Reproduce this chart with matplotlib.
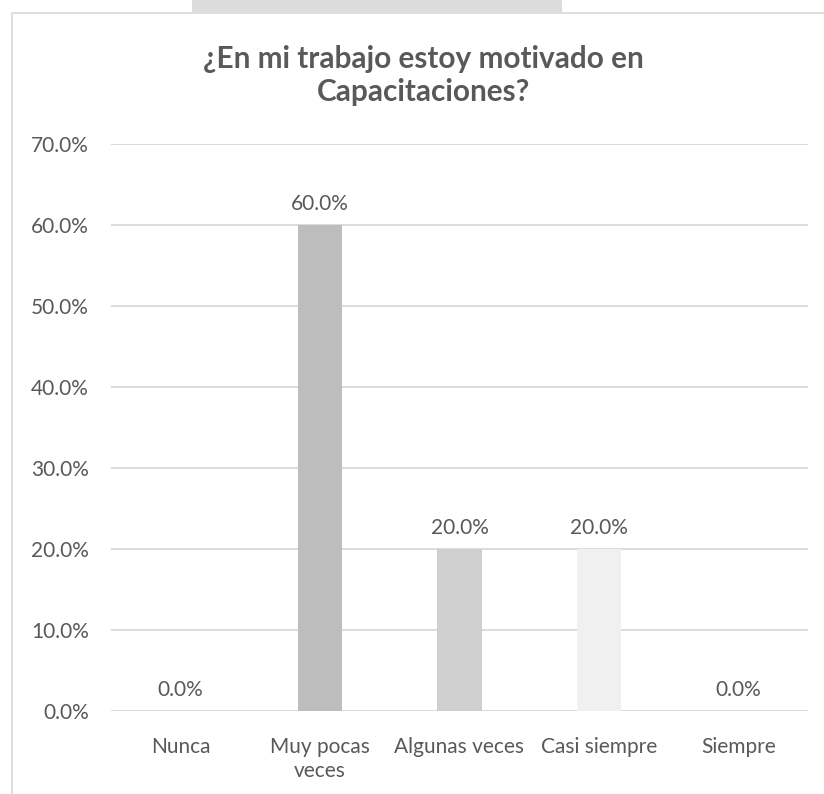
import matplotlib.pyplot as plt
from matplotlib.patches import Rectangle
from matplotlib.ticker import PercentFormatter

# Data
categories = ['Nunca', 'Muy pocas\nveces', 'Algunas veces', 'Casi siempre', 'Siempre']
values = [0.0, 60.0, 20.0, 20.0, 0.0]
bar_colors = ['#bdbdbd', '#bdbdbd', '#d0cfcf', '#f0f0f0', '#bdbdbd']
y_ticks = [0, 10, 20, 30, 40, 50, 60, 70]

TEXT = '#595959'
GRID = '#d9d9d9'

plt.rcParams['font.family'] = ['Lato', 'DejaVu Sans']

W, H = 824, 794
fig = plt.figure(figsize=(W / 100, H / 100), dpi=100)

# outer chart frame (runs off the right/bottom edge) and grey strip on top
fig.patches.append(Rectangle((12 / W, -0.1), 1.2, (H - 13) / H + 0.1,
                             transform=fig.transFigure, fill=False,
                             edgecolor=GRID, lw=1.2))
fig.patches.append(Rectangle((192 / W, (H - 12) / H), (562 - 192) / W, 12 / H,
                             transform=fig.transFigure, facecolor='#dcdcdc',
                             edgecolor='none'))

# plot area in pixels: x 111..808, y 144..711
ax = fig.add_axes([111 / W, (H - 711) / H, (808 - 111) / W, (711 - 144) / H])

x = range(len(categories))
bars = ax.bar(x, values, width=0.317, color=bar_colors, zorder=2)
ax.bar_label(bars, labels=[f'{v:.1f}%' for v in values], padding=8,
             fontsize=15, color=TEXT)

ax.set_xlim(-0.5, len(categories) - 0.5)
ax.set_ylim(0, 70)
ax.set_yticks(y_ticks)
ax.yaxis.set_major_formatter(PercentFormatter(decimals=1))
ax.set_xticks(list(x))
ax.set_xticklabels(categories, linespacing=1.2)
ax.grid(True, axis='y', color=GRID, lw=1.3, zorder=0)
ax.set_axisbelow(True)
for s in ax.spines.values():
    s.set_visible(False)
ax.tick_params(axis='both', length=0, labelsize=15, labelcolor=TEXT)
ax.tick_params(axis='y', pad=16)
ax.tick_params(axis='x', pad=19)

title_lines = ['¿En mi trabajo estoy motivado en', 'Capacitaciones?']
for line, ypix in zip(title_lines, [59, 92]):
    fig.text(423 / W, (H - ypix) / H, line, ha='center', va='center',
             fontsize=21.4, fontweight='bold', color=TEXT)

fig.savefig('out.png', dpi=100)
